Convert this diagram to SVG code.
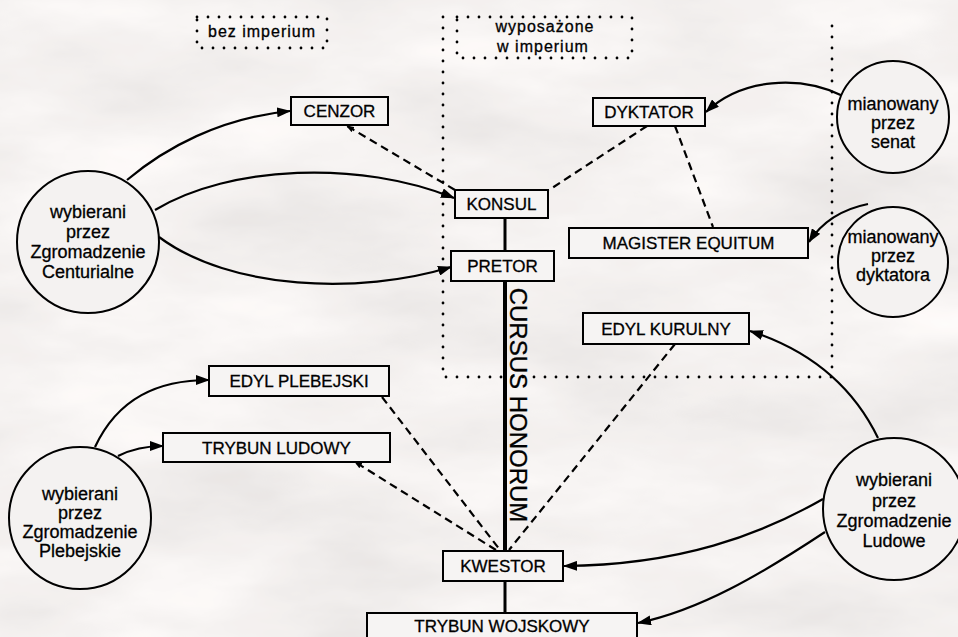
<svg xmlns="http://www.w3.org/2000/svg" width="958" height="637" viewBox="0 0 958 637">
<defs>
  <filter id="marble" x="0" y="0" width="100%" height="100%">
    <feTurbulence type="fractalNoise" baseFrequency="0.004 0.011" numOctaves="5" seed="7" result="n"/>
    <feColorMatrix type="matrix" values="0.32 0 0 0 0.76  0.32 0 0 0 0.735  0.32 0 0 0 0.725  0 0 0 0 1"/>
  </filter>
  <marker id="arr" markerUnits="userSpaceOnUse" viewBox="0 0 14 10" refX="13" refY="5" markerWidth="14" markerHeight="10" orient="auto">
    <path d="M0,0 L14,5 L0,10 z" fill="#000"/>
  </marker>
  <marker id="sarr" markerUnits="userSpaceOnUse" viewBox="0 0 8 6" refX="7" refY="3" markerWidth="8" markerHeight="6" orient="auto">
    <path d="M0,0 L8,3 L0,6 z" fill="#000"/>
  </marker>
</defs>
<style>
  .box rect { fill: #f6f4f3; stroke: #000; stroke-width: 2; }
  .circ circle { fill: #f4f2f1; stroke: #000; stroke-width: 2; }
  .lbl { font-family: "Liberation Sans", Arial, sans-serif; font-size: 17px; fill: #000; stroke: #000; stroke-width: 0.3; text-anchor: middle; }
  .ctx { font-family: "Liberation Sans", Arial, sans-serif; font-size: 18px; fill: #000; stroke: #000; stroke-width: 0.3; text-anchor: middle; }
  .note { font-family: "Liberation Sans", Arial, sans-serif; font-size: 16px; letter-spacing: 1px; fill: #000; stroke: #000; stroke-width: 0.3; text-anchor: middle; }
  .dot { fill: none; stroke: #000; stroke-width: 2.8; stroke-linecap: round; stroke-dasharray: 0 11; }
  .arrow { fill: none; stroke: #000; stroke-width: 2.2; marker-end: url(#arr); }
  .dash { fill: none; stroke: #000; stroke-width: 2.2; stroke-dasharray: 8 5; }
  .cursus { fill: none; stroke: #000; stroke-width: 4; }
</style>
<rect x="0" y="0" width="958" height="637" fill="#ebe7e5"/>
<rect x="0" y="0" width="958" height="637" filter="url(#marble)" opacity="0.9"/>

<g id="imperium-frames">
  <rect class="dot" x="197" y="17" width="130" height="31"/>
  <text class="note" x="262" y="37">bez imperium</text>
  <rect class="dot" x="457" y="17" width="175" height="41"/>
  <text class="note" x="545" y="32">wyposażone</text>
  <text class="note" x="543" y="52">w imperium</text>
  <path class="dot" d="M443,17 L443,377 L832,377 L832,25"/>
</g>

<g id="connectors">
  <path class="cursus" d="M505,218 L505,251" style="stroke-width:3"/>
  <path class="cursus" d="M505,281 L505,551"/>
  <path class="cursus" d="M505,581 L505,613" style="stroke-width:3"/>

  <path class="dash" d="M455,190 L347,126" marker-end="url(#sarr)"/>
  <path class="dash" d="M647,126 L549,190"/>
  <path class="dash" d="M675,126 L713,227"/>
  <path class="dash" d="M675,344 L509,550"/>
  <path class="dash" d="M382,397 L500,550"/>
  <path class="dash" d="M496,550 L355,462" marker-end="url(#sarr)"/>

  <path class="arrow" d="M127,180 C165,148 220,118 290,111"/>
  <path class="arrow" d="M155,210 C230,165 360,160 454,198"/>
  <path class="arrow" d="M159,237 C230,290 360,295 451,267"/>

  <path class="arrow" d="M95,447 C118,398 158,380 209,380"/>
  <path class="arrow" d="M118,456 C132,449 145,446 163,446"/>

  <path class="arrow" d="M843,96 C800,75 742,78 706,112"/>
  <path class="arrow" d="M868,204 C838,210 820,225 809,242"/>

  <path class="arrow" d="M878,438 Q840,360 750,331"/>
  <path class="arrow" d="M823,499 C760,535 680,565 564,566"/>
  <path class="arrow" d="M825,532 C760,575 700,610 638,623"/>
</g>

<text id="cursus-label" transform="translate(510,405) rotate(90)" x="0" y="0" style="font-family:'Liberation Sans',Arial,sans-serif;font-size:24px;text-anchor:middle;fill:#000;stroke:#000;stroke-width:0.3">CURSUS HONORUM</text>

<g id="cenzor" class="box"><rect x="291" y="97" width="97" height="28"/><text class="lbl" x="339.5" y="117">CENZOR</text></g>
<g id="dyktator" class="box"><rect x="593" y="98" width="112" height="28"/><text class="lbl" x="649" y="118">DYKTATOR</text></g>
<g id="konsul" class="box"><rect x="455" y="190" width="93" height="28"/><text class="lbl" x="501.5" y="210">KONSUL</text></g>
<g id="pretor" class="box"><rect x="451" y="251" width="103" height="30"/><text class="lbl" x="502.5" y="272">PRETOR</text></g>
<g id="magister" class="box"><rect x="569" y="228" width="239" height="30"/><text class="lbl" x="688.5" y="249">MAGISTER EQUITUM</text></g>
<g id="edyl-kurulny" class="box"><rect x="583" y="313" width="166" height="31"/><text class="lbl" x="666" y="335">EDYL KURULNY</text></g>
<g id="edyl-plebejski" class="box"><rect x="209" y="366" width="180" height="30"/><text class="lbl" x="299" y="387">EDYL PLEBEJSKI</text></g>
<g id="trybun-ludowy" class="box"><rect x="163" y="433" width="227" height="29"/><text class="lbl" x="276.5" y="454">TRYBUN LUDOWY</text></g>
<g id="kwestor" class="box"><rect x="443" y="551" width="120" height="30"/><text class="lbl" x="503" y="572">KWESTOR</text></g>
<g id="trybun-wojskowy" class="box"><rect x="367" y="613" width="270" height="32"/><text class="lbl" x="502" y="632">TRYBUN WOJSKOWY</text></g>

<g id="zgr-centurialne" class="circ">
  <circle cx="88" cy="242" r="71"/>
  <text class="ctx" x="88" y="218">wybierani</text>
  <text class="ctx" x="88" y="238">przez</text>
  <text class="ctx" x="88" y="258">Zgromadzenie</text>
  <text class="ctx" x="88" y="278">Centurialne</text>
</g>
<g id="zgr-plebejskie" class="circ">
  <circle cx="80" cy="518" r="71"/>
  <text class="ctx" x="80" y="500">wybierani</text>
  <text class="ctx" x="80" y="519">przez</text>
  <text class="ctx" x="80" y="538">Zgromadzenie</text>
  <text class="ctx" x="80" y="557">Plebejskie</text>
</g>
<g id="senat" class="circ">
  <circle cx="893" cy="117" r="56"/>
  <text class="ctx" x="893" y="110">mianowany</text>
  <text class="ctx" x="893" y="129">przez</text>
  <text class="ctx" x="893" y="148">senat</text>
</g>
<g id="dyktatora" class="circ">
  <circle cx="893" cy="262" r="55"/>
  <text class="ctx" x="893" y="243">mianowany</text>
  <text class="ctx" x="893" y="262">przez</text>
  <text class="ctx" x="893" y="281">dyktatora</text>
</g>
<g id="zgr-ludowe" class="circ">
  <circle cx="894" cy="509" r="71"/>
  <text class="ctx" x="894" y="486">wybierani</text>
  <text class="ctx" x="894" y="507">przez</text>
  <text class="ctx" x="894" y="527">Zgromadzenie</text>
  <text class="ctx" x="894" y="547">Ludowe</text>
</g>
</svg>
